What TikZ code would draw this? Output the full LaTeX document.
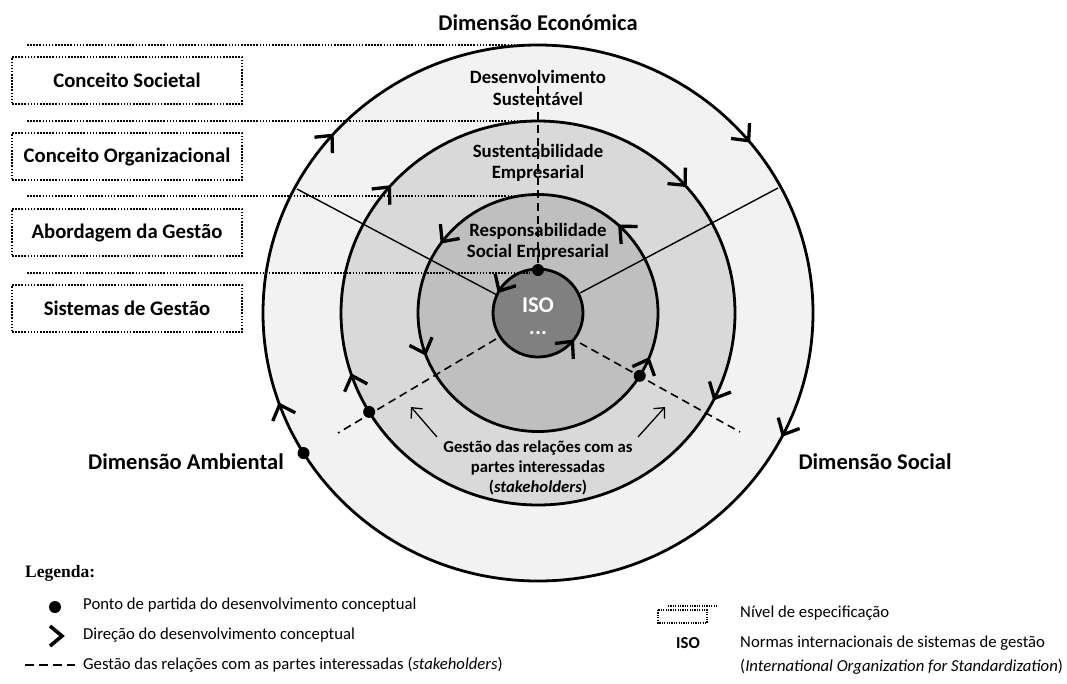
\documentclass[tikz,border=0pt]{standalone}
\usepackage{fontspec}
\setmainfont{Carlito}
\newfontfamily\legserif{Liberation Serif}
\usetikzlibrary{arrows.meta}
\definecolor{ringA}{HTML}{F2F2F2}
\definecolor{ringB}{HTML}{D9D9D9}
\definecolor{ringC}{HTML}{BFBFBF}
\definecolor{ringD}{HTML}{808080}
\newcommand\cwchev[3]{\draw[chev,shift={(#1:#2 and #3)},rotate=#1-90] (-13,-12)--(0,0)--(-13,12);}
\newcommand\ccwchev[3]{\draw[chev,shift={(#1:#2 and #3)},rotate=#1+90] (-13,-12)--(0,0)--(-13,12);}
\begin{document}
\begin{tikzpicture}[x=1pt,y=1pt,
  ring/.style={draw=black,line width=2.8pt},
  dotline/.style={line width=1.6pt,dash pattern=on 1.6pt off 1.5pt},
  lvlbox/.style={draw,dotline,minimum width=230pt,minimum height=47pt,font=\fontsize{20.7}{24}\selectfont\bfseries,inner sep=0pt},
  spoke/.style={line width=1.4pt},
  dashln/.style={line width=1.6pt,dash pattern=on 8pt off 5pt},
  lbl/.style={font=\fontsize{18.8}{21.5}\selectfont\bfseries,align=center,inner sep=0pt},
  dimlbl/.style={font=\fontsize{22.5}{26}\selectfont\bfseries,inner sep=0pt},
  leg/.style={font=\fontsize{16.7}{20}\selectfont,anchor=west,inner sep=0pt},
  chev/.style={line width=3.3pt,line cap=butt,line join=miter},
  startdot/.style={fill=black,circle,inner sep=0pt,minimum size=12pt},
  thinarrow/.style={line width=1.3pt,-{Straight Barb[length=8pt,width=15pt,line width=1.3pt]}},
  ]
\path[use as bounding box] (0,0) rectangle (1067,-683);
\coordinate (C) at (538,-313);
% rings
\fill[ringA] (C) ellipse [x radius=275,y radius=268];
\fill[ringB] (C) ellipse [x radius=197,y radius=192];
\fill[ringC] (C) ellipse [x radius=120,y radius=118.5];
\fill[ringD] (C) ellipse [x radius=45,y radius=44];
% spokes
\draw[spoke] (497,-295) -- (297,-189);
\draw[spoke] (580,-293) -- (778,-188);
% stakeholder dashed lines
\draw[dashln] (496,-339) -- (338,-433);
\draw[dashln] (580,-343) -- (740,-432);
\draw[dashln] (538,-86) -- (538,-270);
% level dotted lines
\draw[dotline] (27,-45) -- (520,-45);
\draw[dotline] (27,-121) -- (520,-121);
\draw[dotline] (27,-196) -- (523,-196);
\draw[dotline] (27,-273) -- (530,-273);
% outlines
\draw[ring] (C) ellipse [x radius=275,y radius=268];
\draw[ring] (C) ellipse [x radius=197,y radius=192];
\draw[ring] (C) ellipse [x radius=120,y radius=118.5];
\draw[ring] (C) ellipse [x radius=45,y radius=44];
\begin{scope}[shift={(C)}]
  % start dots
  \node[startdot] (d0) at (90:45 and 43) {};
  \node[startdot] (d1) at (-32:120 and 118.5) {};
  \node[startdot] (d2) at (211:197 and 192) {};
  \node[startdot] (d3) at (211.5:275 and 268) {};
  % direction chevrons
  \cwchev{200}{275}{268}
  \cwchev{138.5}{275}{268}
  \cwchev{40}{275}{268}
  \cwchev{-27}{275}{268}
  \cwchev{199}{197}{192}
  \cwchev{139}{197}{192}
  \cwchev{41.7}{197}{192}
  \cwchev{-26.4}{197}{192}
  \ccwchev{-23}{120}{118.5}
  \ccwchev{47}{120}{118.5}
  \ccwchev{143}{120}{118.5}
  \ccwchev{200}{120}{118.5}
  \ccwchev{150}{45}{44}
  \ccwchev{-40}{45}{44}
\end{scope}
% thin arrows
\coordinate (la0) at (437,-437); \coordinate (la1) at (411,-407);
\coordinate (ra0) at (638,-437); \coordinate (ra1) at (665,-407);
\draw[thinarrow] (la0) -- (la1);
\draw[thinarrow] (ra0) -- (ra1);
% texts
\node[dimlbl] (econ) at (538,-23) {Dimensão Económica};
\node[dimlbl] (amb) at (186,-462) {Dimensão Ambiental};
\node[dimlbl] (soc) at (875,-462) {Dimensão Social};
\node[lbl] (ds) at (538,-88) {Desenvolvimento\\Sustentável};
\node[lbl] (se) at (538,-163) {Sustentabilidade\\Empresarial};
\node[lbl] (rse) at (538,-242) {Responsabilidade\\Social Empresarial};
\node[font=\fontsize{22.5}{24}\selectfont\bfseries,text=white,inner sep=0pt] (iso) at (538,-305) {ISO};
\node[font=\fontsize{22.5}{24}\selectfont\bfseries,text=white,inner sep=0pt] (isodots) at (538,-333) {...};
\node[font=\fontsize{16.7}{20}\selectfont\bfseries,align=center,inner sep=0pt] (gest) at (538,-468) {Gestão das relações com as\\partes interessadas\\(\textit{stakeholders})};
% level boxes
\node[lvlbox] (b1) at (127,-80.5) {Conceito Societal};
\node[lvlbox] (b2) at (127,-156.5) {Conceito Organizacional};
\node[lvlbox] (b3) at (127,-232.5) {Abordagem da Gestão};
\node[lvlbox] (b4) at (127,-308.5) {Sistemas de Gestão};
% legend
\node[anchor=west,inner sep=0pt,font=\legserif\fontsize{17.5}{20}\selectfont\bfseries] (legt) at (25,-573) {Legenda:};
\node[startdot] (ldot) at (55,-607) {};
\node[leg] (l1) at (83,-605) {Ponto de partida do desenvolvimento conceptual};
\coordinate (lc) at (62,-636);
\draw[line width=3.6pt,line join=miter] ([shift={(-12,10)}]lc) -- (lc) -- ([shift={(-12,-10)}]lc);
\node[leg] (l2) at (83,-635) {Direção do desenvolvimento conceptual};
\coordinate (ld0) at (25,-665); \coordinate (ld1) at (75,-665);
\draw[line width=1.8pt,dash pattern=on 9pt off 5pt] (ld0) -- (ld1);
\node[leg] (l3) at (83,-665) {Gestão das relações com as partes interessadas (\textit{stakeholders})};
\draw[line width=1.2pt,dash pattern=on 1.2pt off 1.2pt] (668,-606) -- (717,-606);
\draw[line width=1.2pt,dash pattern=on 1.2pt off 1.2pt] (658,-610) rectangle (707,-623);
\node[leg] (l4) at (740,-613) {Nível de especificação};
\node[font=\fontsize{16.7}{20}\selectfont\bfseries,inner sep=0pt] (liso) at (688,-643) {ISO};
\node[leg] (l5) at (740,-643) {Normas internacionais de sistemas de gestão};
\node[leg] (l6) at (740,-667) {(\textit{International Organization for Standardization})};
\end{tikzpicture}
\end{document}
